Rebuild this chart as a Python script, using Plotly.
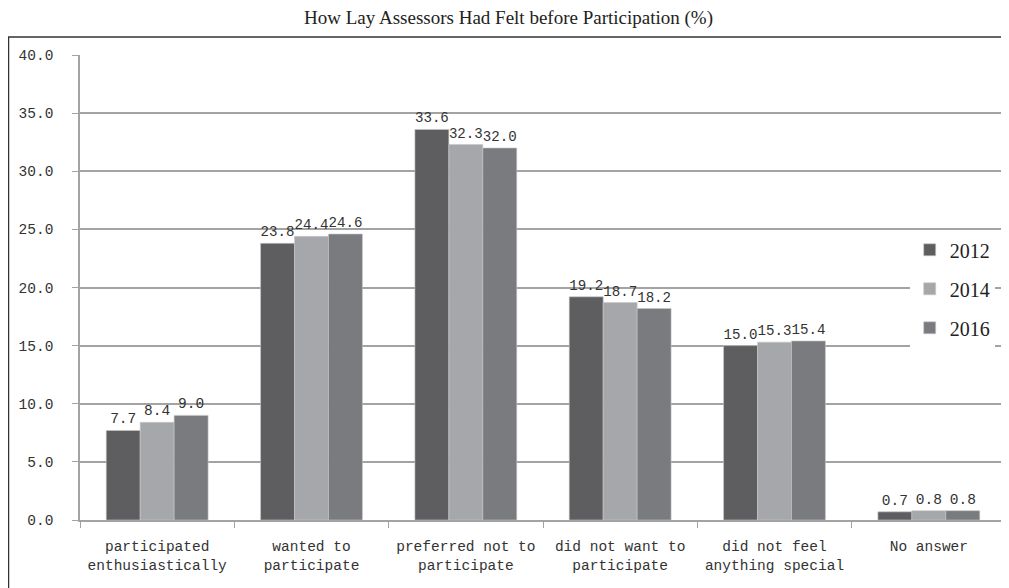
import plotly.graph_objects as go

categories = ["participated<br>enthusiastically", "wanted to<br>participate", "preferred not to<br>participate",
              "did not want to<br>participate", "did not feel<br>anything special", "No answer"]
years = ["2012", "2014", "2016"]
v2012 = [7.7, 23.8, 33.6, 19.2, 15.0, 0.7]
v2014 = [8.4, 24.4, 32.3, 18.7, 15.3, 0.8]
v2016 = [9.0, 24.6, 32.0, 18.2, 15.4, 0.8]
yticks = [0, 5, 10, 15, 20, 25, 30, 35, 40]
ytick_labels = ["%.1f" % t for t in yticks]

colors = ["#5e5e60", "#a6a7aa", "#7a7b7f"]
mono = "Liberation Mono"
serif = "Liberation Serif"

W, H = 1001, 580          # page body has an 8px margin
L, R, T, B = 72, 3, 47, 68
PW, PH = W - L - R, H - T - B

fig = go.Figure()
for name, vals, col in zip(years, [v2012, v2014, v2016], colors):
    fig.add_trace(go.Bar(
        x=categories, y=vals, name=name, legendgroup=name,
        marker=dict(color=col, line=dict(color="#c8c8c8", width=0.6)),
        text=["%.1f" % v for v in vals], textposition="outside",
        textfont=dict(family=mono, size=14.5, color="#333333"),
        cliponaxis=False,
    ))

fig.update_layout(
    width=W, height=H,
    margin=dict(l=L, r=R, t=T, b=B),
    paper_bgcolor="white", plot_bgcolor="white",
    barmode="group", bargap=0.34, bargroupgap=0,
    title=dict(text="How Lay Assessors Had Felt before Participation (%)",
               x=0.5, xanchor="center", y=1 - 9 / H, yanchor="middle",
               font=dict(family=serif, size=19, color="#222222")),
    legend=dict(x=0.896, xanchor="left", y=0.623, yanchor="top",
                bgcolor="white", traceorder="grouped", tracegroupgap=10,
                font=dict(family=serif, size=20, color="#222222")),
    showlegend=True,
)
fig.update_yaxes(range=[0, 40], tickvals=yticks, ticktext=ytick_labels,
                 showgrid=True, gridcolor="#a3a3a3", gridwidth=1.5,
                 showline=True, linecolor="#a3a3a3", linewidth=1.5,
                 ticks="outside", ticklen=6, tickcolor="#a3a3a3",
                 ticklabelstandoff=16,
                 tickfont=dict(family=mono, size=14.5, color="#333333"),
                 zeroline=False)
fig.update_xaxes(showline=True, linecolor="#a3a3a3", linewidth=1.5,
                 ticks="outside", ticklen=6, tickcolor="#a3a3a3", tickson="boundaries",
                 ticklabelstandoff=12,
                 tickfont=dict(family=mono, size=14.5, color="#333333"))

# outer frame (extends past the right and bottom edges of the picture)
fig.add_shape(type="rect", xref="paper", yref="paper",
              x0=(0.5 - L) / PW, x1=(W + 5 - L) / PW,
              y0=-(B + 10) / PH, y1=(PH + T - 29) / PH,
              line=dict(color="#333333", width=1.5), fillcolor="rgba(0,0,0,0)", layer="below")

fig.write_html("out.html")
